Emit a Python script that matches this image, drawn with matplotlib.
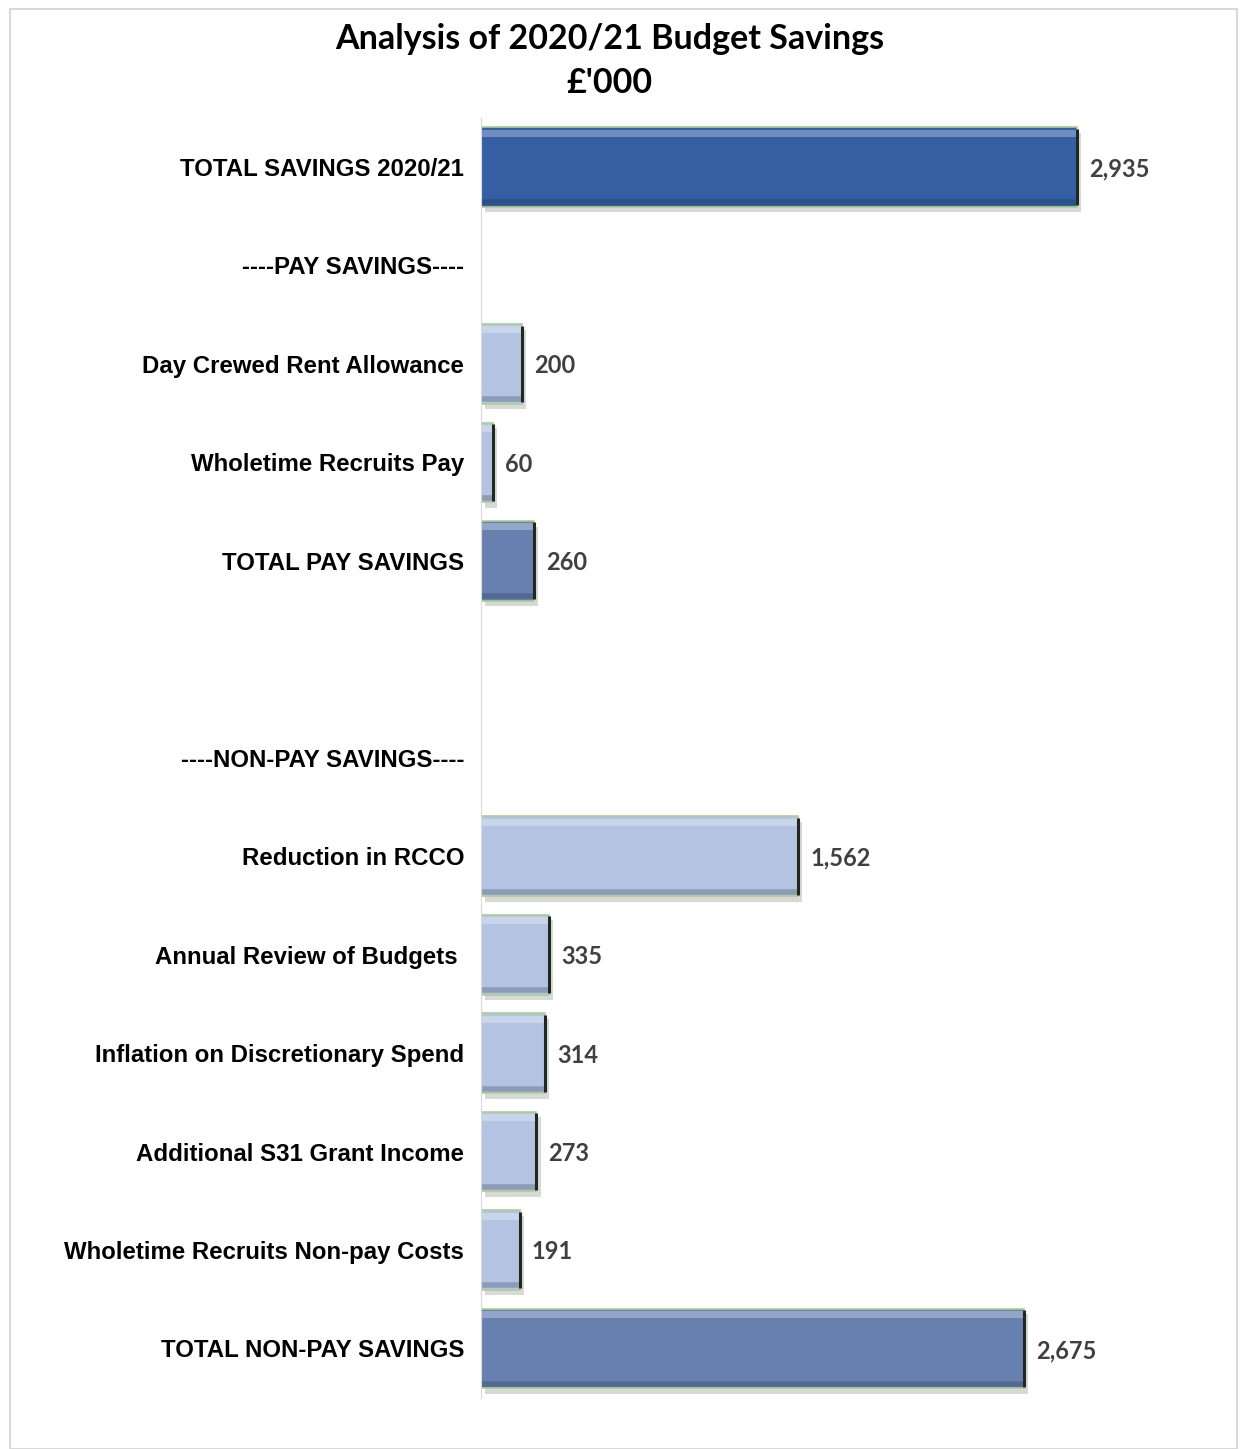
import numpy as np
import matplotlib.pyplot as plt
from matplotlib.patches import Rectangle
import matplotlib.patheffects as pe

labels = ['TOTAL SAVINGS 2020/21', '----PAY SAVINGS----', 'Day Crewed Rent Allowance',
          'Wholetime Recruits Pay', 'TOTAL PAY SAVINGS', '', '----NON-PAY SAVINGS----',
          'Reduction in RCCO', 'Annual Review of Budgets ', 'Inflation on Discretionary Spend',
          'Additional S31 Grant Income', 'Wholetime Recruits Non-pay Costs', 'TOTAL NON-PAY SAVINGS']
values = [2935, np.nan, 200, 60, 260, np.nan, np.nan, 1562, 335, 314, 273, 191, 2675]
kinds = ['grand', None, 'item', 'item', 'sub', None, None, 'item', 'item', 'item', 'item', 'item', 'sub']

colors = {'grand': '#355fa3', 'sub': '#6780af', 'item': '#b3c3e1', None: 'white'}

fig = plt.figure(figsize=(12.47, 14.49), dpi=100)
fig.patches.append(Rectangle((10/1247, 0), 1227/1247, 1 - 9/1449, transform=fig.transFigure,
                             fill=False, edgecolor='#d9d9d9', linewidth=1.5))
ax = fig.add_axes([0.3857, 0.0354, 0.57, 0.8833])

y = np.arange(len(labels))
vals = np.nan_to_num(np.array(values, dtype=float))
bars = ax.barh(y, vals, height=0.81, color=[colors[k] for k in kinds],
               edgecolor='#a9d18e', linewidth=1.2)
for b in bars:
    b.set_path_effects([pe.SimplePatchShadow(offset=(3, -4), shadow_rgbFace='#909090', alpha=0.35),
                        pe.Normal()])

# bevel hints: light top strip, dark bottom strip, dark right edge
for yi, v in zip(y, values):
    if not np.isnan(v):
        ax.plot([0, v], [yi - 0.35, yi - 0.35], color='white', alpha=0.3, linewidth=5,
                solid_capstyle='butt')
        ax.plot([0, v], [yi + 0.36, yi + 0.36], color='#1a2540', alpha=0.25, linewidth=4,
                solid_capstyle='butt')
        ax.plot([v, v], [yi - 0.39, yi + 0.39], color='#1f2a1f', linewidth=2.2, solid_capstyle='butt')
        ax.text(v + 60, yi + 0.02, f'{int(v):,}', va='center', ha='left', fontsize=17,
                fontweight='bold', color='#404040', family='Lato')

ax.set_ylim(len(labels) - 0.5, -0.5)
ax.set_xlim(0, 3500)
ax.set_yticks(y)
ax.set_yticklabels(labels, fontsize=17.3, fontweight='bold', family='Liberation Sans')
ax.tick_params(axis='y', length=0, pad=12)
ax.set_xticks([])
for s in ['top', 'right', 'bottom']:
    ax.spines[s].set_visible(False)
ax.spines['left'].set_color('#d9d9d9')

fig.text(0.489, 0.9728, "Analysis of 2020/21 Budget Savings", ha='center', va='center',
         fontsize=24.5, fontweight='bold', family='Lato')
fig.text(0.489, 0.9425, "£'000", ha='center', va='center', fontsize=24.5, fontweight='bold', family='Lato')

fig.savefig('out.png', dpi=100)
